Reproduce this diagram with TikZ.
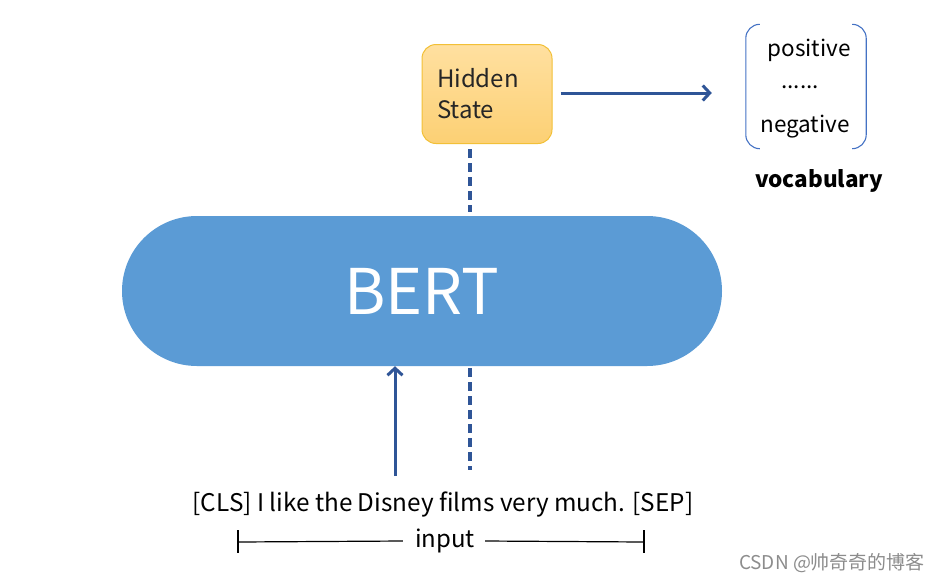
\documentclass[tikz,border=0pt]{standalone}
\usepackage{fontspec}
\setmainfont{Noto Sans CJK SC}
\usetikzlibrary{arrows.meta,positioning}

\definecolor{bertblue}{HTML}{5B9BD5}
\definecolor{linkblue}{HTML}{2F5597}
\definecolor{brackblue}{HTML}{4472C4}
\definecolor{statetop}{HTML}{FFE0A0}
\definecolor{statebot}{HTML}{FCD074}
\definecolor{stateline}{HTML}{F2C037}

\tikzset{
  link/.style={line width=3pt, linkblue, -{Straight Barb[length=7pt,width=15pt,line width=3pt]}},
  dashlink/.style={line width=3.4pt, linkblue, dash pattern=on 9pt off 5pt},
  word/.style={inner sep=0pt, font=\fontsize{22.5}{26}\selectfont},
  barline/.style={line width=1.2pt, black}
}

\begin{document}
\begin{tikzpicture}[x=1pt, y=-1pt]
\useasboundingbox (0,0) rectangle (942,582);

% Encoder
\node[fill=bertblue, rounded corners=75pt, minimum width=600pt, minimum height=150pt,
      text=white, font=\fontsize{63}{70}\selectfont] (bert) at (422,291) {BERT};

% Hidden state box
\node[draw=stateline, line width=1pt, top color=statetop, bottom color=statebot,
      rounded corners=14pt, minimum width=130pt, minimum height=99pt,
      text width=100pt, align=left, inner xsep=15pt, text=black!85,
      font=\fontsize{24}{31}\selectfont] (hidden) at (487,94) {Hidden\\State};

% Vocabulary
\node[minimum width=120pt, minimum height=124pt, inner sep=0pt] (vocab) at (806,86.5) {};
\node[word] (pos) at (809,50) {positive};
\node[word] (dots) at (800,87) {......};
\node[word] (neg) at (805,127) {negative};
\node[inner sep=0pt, font=\fontsize{22.5}{26}\selectfont\bfseries] (vocname) at (819,181) {vocabulary};
\draw[brackblue, line width=1.1pt]
  ([xshift=14pt]vocab.north west) arc (90:180:14pt) -- ([yshift=14pt]vocab.south west) arc (180:270:14pt);
\draw[brackblue, line width=1.1pt]
  ([xshift=-14pt]vocab.north east) arc (90:0:14pt) -- ([yshift=14pt]vocab.south east) arc (0:-90:14pt);

% Input sentence
\node[inner sep=0pt, font=\fontsize{24.3}{28}\selectfont] (sent) at (443,505) {[CLS] I like the Disney films very much. [SEP]};
\node[inner sep=0pt, font=\fontsize{24}{28}\selectfont] (input) at (445,541) {input};
\coordinate (inl) at (238,542);
\coordinate (inr) at (644,542);
\draw[barline] (inl) -- ([xshift=-12pt]input.west);
\draw[barline] ([xshift=10pt]input.east) -- (inr);
\draw[barline] ([yshift=12pt]inl) -- ([yshift=-11pt]inl);
\draw[barline] ([yshift=12pt]inr) -- ([yshift=-11pt]inr);

% Connections
\draw[link] (sent.north -| 395,0) ++(0,-16) -- (395,0 |- bert.south);
\draw[dashlink] ([yshift=-2pt]bert.south -| 470,0) -- (470,470);
\draw[dashlink] ([yshift=-5pt]hidden.south -| 470,0) -- ([yshift=4pt]470,0 |- bert.north);
\draw[link] ([xshift=8pt,yshift=1pt]hidden.east) -- ([xshift=-34pt,yshift=1pt]hidden.east -| vocab.west);

% Watermark
\node[inner sep=0pt, text=black!45, font=\fontsize{19}{21}\selectfont] (mark) at (832,563) {CSDN @帅奇奇的博客};
\end{tikzpicture}
\end{document}
